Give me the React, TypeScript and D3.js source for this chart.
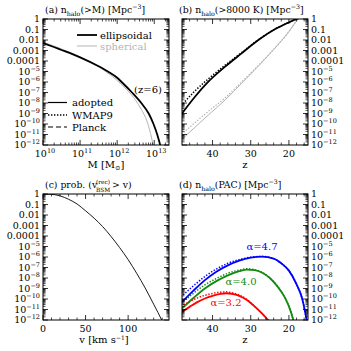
import React from "react";
import * as d3 from "d3";

const FONT = "DejaVu Serif";

// ---------- panel (a): log10 n(>M) vs log10 M at z=6
const massEll = [10.0, 10.5, 11.0, 11.5, 11.75, 12.0, 12.12, 12.4, 12.65, 12.85, 12.98, 13.08, 13.16, 13.2];
const nEll = [-2.3, -2.95, -3.65, -4.5, -5.0, -5.6, -6.0, -7.0, -8.0, -9.0, -10.0, -11.0, -12.0, -12.6];
const massSph = [10.0, 10.5, 11.0, 11.5, 11.75, 12.0, 12.25, 12.5, 12.65, 12.8, 12.9, 12.97, 13.0];
const nSph = [-2.2, -2.85, -3.6, -4.55, -5.15, -5.85, -6.7, -7.75, -8.6, -9.7, -10.9, -12.0, -12.5];

// ---------- panel (b): log10 n(>8000 K) vs z
const zB = [48.3, 44.6, 41.1, 36.7, 32.4, 28.0, 23.7, 20.5, 18.0, 17.0];
const nBEll = [-9.14, -7.4, -5.97, -4.54, -3.27, -2.0, -0.98, -0.4, 0.0, 0.15];
const nBEllW = [-8.3, -6.85, -5.7, -4.4, -3.2, -1.98, -0.98, -0.4, 0.0, 0.15];
const zBs = [48.2, 41.1, 36.7, 32.4, 28.0, 23.7, 20.2, 17.6, 16.5];
const nBSph = [-11.52, -9.14, -7.71, -6.13, -4.48, -2.79, -1.3, 0.0, 0.4];
const nBSphW = [-11.0, -8.8, -7.5, -6.0, -4.42, -2.77, -1.3, 0.0, 0.4];

// ---------- panel (c): log10 prob(v_bsm > v)
const vC = [0, 10, 20, 30, 40, 50, 60, 70, 80, 90, 100, 110, 120, 130, 140, 145];
const pC = [0, -0.03, -0.18, -0.5, -0.95, -1.6, -2.3, -3.1, -4.05, -5.1, -6.25, -7.55, -8.95, -10.5, -12.1, -13.0];

// ---------- panel (d): log10 n(PAC) vs z
const zD47 = [48.3, 45, 42, 39, 36, 33, 30, 27, 24, 22, 20, 18, 16.5, 15.3];
const nD47 = [-10.4, -9.2, -8.2, -7.4, -6.8, -6.35, -6.07, -5.97, -6.15, -6.6, -7.3, -8.6, -10.0, -12.1];
const nD47W = [-9.8, -8.75, -7.85, -7.15, -6.6, -6.25, -6.02, -5.95, -6.15, -6.6, -7.3, -8.6, -10.0, -12.1];
const zD40 = [48.3, 45, 42, 39, 36, 33, 31, 29, 27, 25, 23, 21, 19.5, 18.7];
const nD40 = [-11.0, -9.9, -9.0, -8.3, -7.75, -7.35, -7.2, -7.25, -7.5, -8.0, -8.8, -9.9, -11.2, -12.2];
const nD40W = [-10.45, -9.45, -8.65, -8.05, -7.55, -7.25, -7.12, -7.2, -7.47, -8.0, -8.8, -9.9, -11.2, -12.2];
const zD32 = [48.3, 46, 44, 42, 40, 38, 36.5, 35, 33, 31, 29, 27, 25];
const nD32 = [-11.3, -10.75, -10.3, -9.95, -9.7, -9.52, -9.45, -9.5, -9.7, -10.1, -10.7, -11.4, -12.2];
const nD32W = [-10.7, -10.25, -9.9, -9.65, -9.47, -9.35, -9.32, -9.4, -9.62, -10.05, -10.68, -11.4, -12.2];

const yTickLabels = ["1", "0.1", "0.01", "0.001", "0.0001"];

type Box = { x0: number; x1: number; y0: number; y1: number };
const BA: Box = { x0: 43, x1: 169, y0: 19, y1: 145 };
const BB: Box = { x0: 182, x1: 308, y0: 19, y1: 145 };
const BC: Box = { x0: 43, x1: 169, y0: 194, y1: 320 };
const BD: Box = { x0: 182, x1: 308, y0: 194, y1: 320 };

const TITLE = 9.3;
const LEG = 10;

function yScale(b: Box) {
  return d3.scaleLog().domain([1e-12, 1]).range([b.y1, b.y0]);
}

function YLabel({ k }: { k: number }) {
  if (k >= -4) return <>{yTickLabels[-k]}</>;
  return (
    <>
      <tspan>10</tspan>
      <tspan dy={-4} fontSize={6.5}>{"\u2212" + -k}</tspan>
    </>
  );
}

function YAxis({ b, side }: { b: Box; side: "left" | "right" }) {
  const y = yScale(b);
  const majors = d3.range(-12, 1);
  const minors: number[] = [];
  for (let k = -12; k < 0; k++) for (let m = 2; m < 10; m++) minors.push(m * Math.pow(10, k));
  return (
    <g>
      {majors.map((k) => {
        const yy = y(Math.pow(10, k));
        return (
          <g key={"M" + k}>
            <line x1={b.x0} x2={b.x0 + 5} y1={yy} y2={yy} stroke="#000" strokeWidth={0.8} />
            <line x1={b.x1} x2={b.x1 - 5} y1={yy} y2={yy} stroke="#000" strokeWidth={0.8} />
          </g>
        );
      })}
      {minors.map((v, i) => {
        const yy = y(v);
        return (
          <g key={"m" + i}>
            <line x1={b.x0} x2={b.x0 + 2.5} y1={yy} y2={yy} stroke="#000" strokeWidth={0.7} />
            <line x1={b.x1} x2={b.x1 - 2.5} y1={yy} y2={yy} stroke="#000" strokeWidth={0.7} />
          </g>
        );
      })}
      {majors.map((k) => {
        const yy = y(Math.pow(10, k));
        const left = side === "left";
        return (
          <text
            key={"t" + k}
            x={left ? b.x0 - 3 : b.x1 + 3}
            y={yy + 3.3}
            textAnchor={left ? "end" : "start"}
            fontSize={9.5}
            fontFamily={FONT}
          >
            <YLabel k={k} />
          </text>
        );
      })}
    </g>
  );
}

function XTicks({ b, scale, majors, minors }: { b: Box; scale: (v: number) => number; majors: number[]; minors: number[] }) {
  return (
    <g>
      {majors.map((v, i) => {
        const xx = scale(v);
        return (
          <g key={"M" + i}>
            <line x1={xx} x2={xx} y1={b.y1} y2={b.y1 - 5} stroke="#000" strokeWidth={0.8} />
            <line x1={xx} x2={xx} y1={b.y0} y2={b.y0 + 5} stroke="#000" strokeWidth={0.8} />
          </g>
        );
      })}
      {minors.map((v, i) => {
        const xx = scale(v);
        return (
          <g key={"m" + i}>
            <line x1={xx} x2={xx} y1={b.y1} y2={b.y1 - 2.5} stroke="#000" strokeWidth={0.7} />
            <line x1={xx} x2={xx} y1={b.y0} y2={b.y0 + 2.5} stroke="#000" strokeWidth={0.7} />
          </g>
        );
      })}
    </g>
  );
}

function Frame({ b }: { b: Box }) {
  return <rect x={b.x0} y={b.y0} width={b.x1 - b.x0} height={b.y1 - b.y0} fill="none" stroke="#000" strokeWidth={1} />;
}

function ClipDef({ id, b }: { id: string; b: Box }) {
  return (
    <clipPath id={id}>
      <rect x={b.x0} y={b.y0} width={b.x1 - b.x0} height={b.y1 - b.y0} />
    </clipPath>
  );
}

function makePath(xs: number[], ys: number[], sx: (v: number) => number, sy: (v: number) => number) {
  const pts: [number, number][] = xs.map((x, i) => [sx(x), sy(Math.pow(10, ys[i]))]);
  return d3.line().curve(d3.curveMonotoneX)(pts) || "";
}

export default function App() {
  // panel a
  const xA = d3.scaleLog().domain([1e10, 2.5e13]).range([BA.x0, BA.x1]);
  const xAm = (lm: number) => xA(Math.pow(10, lm));
  const yA = yScale(BA);
  const aMaj = [1e10, 1e11, 1e12, 1e13];
  const aMin: number[] = [];
  for (let k = 10; k <= 13; k++) for (let m = 2; m < 10; m++) if (m * Math.pow(10, k) < 2.5e13) aMin.push(m * Math.pow(10, k));

  // panel b / d
  const xB = d3.scaleLinear().domain([48, 15]).range([BB.x0, BB.x1]);
  const xD = d3.scaleLinear().domain([48, 15]).range([BD.x0, BD.x1]);
  const zMaj = [40, 30, 20];
  const zMin = d3.range(16, 48, 2).filter((v) => v % 10 !== 0);
  const yB = yScale(BB);
  const yD = yScale(BD);

  // panel c
  const xC = d3.scaleLinear().domain([0, 148]).range([BC.x0, BC.x1]);
  const yC = yScale(BC);
  const cMaj = [0, 50, 100];
  const cMin = d3.range(10, 148, 10).filter((v) => v % 50 !== 0);

  const black = "#000";
  const gray = "#b4b4b4";
  const blue = "#0000ff";
  const green = "#138a13";
  const red = "#ff0000";
  const dot = "1.4,1.6";

  return (
    <svg width={351} height={351} style={{ display: "block", position: "absolute", left: 0, top: 0 }} fontFamily={FONT}>
      <rect x={0} y={0} width={351} height={351} fill="#fff" />
      <defs>
        <ClipDef id="cA" b={BA} />
        <ClipDef id="cB" b={BB} />
        <ClipDef id="cC" b={BC} />
        <ClipDef id="cD" b={BD} />
      </defs>

      {/* ---------------- Panel (a) */}
      <text x={45} y={13} fontSize={TITLE}>
        (a) n<tspan dy={2.5} fontSize={6.3}>halo</tspan>
        <tspan dy={-2.5}>(&gt;M) [Mpc</tspan>
        <tspan dy={-4} fontSize={6.3}>{"\u22123"}</tspan>
        <tspan dy={4}>]</tspan>
      </text>
      <g clipPath="url(#cA)">
        <path d={makePath(massSph, nSph, xAm, yA)} fill="none" stroke={gray} strokeWidth={1} />
        <path d={makePath(massEll, nEll, xAm, yA)} fill="none" stroke={black} strokeWidth={1.8} />
      </g>
      <XTicks b={BA} scale={(v) => xA(v)} majors={aMaj} minors={aMin} />
      <YAxis b={BA} side="left" />
      <Frame b={BA} />
      {aMaj.map((v, i) => (
        <text key={i} x={xA(v) + 2} y={BA.y1 + 12} textAnchor="middle" fontSize={9.5}>
          10<tspan dy={-4} fontSize={6.5}>{String(10 + i)}</tspan>
        </text>
      ))}
      <text x={106} y={BA.y1 + 22.5} textAnchor="middle" fontSize={LEG}>
        M [M<tspan dy={2} fontSize={6.5}>{"\u2299"}</tspan>
        <tspan dy={-2}>]</tspan>
      </text>
      {/* legend a */}
      <line x1={77} x2={97} y1={35} y2={35} stroke={black} strokeWidth={1.8} />
      <text x={100} y={38.5} fontSize={LEG}>ellipsoidal</text>
      <line x1={77} x2={97} y1={46} y2={46} stroke={gray} strokeWidth={1} />
      <text x={100} y={49.5} fontSize={LEG} fill={gray}>spherical</text>
      <text x={148} y={93} textAnchor="middle" fontSize={LEG}>(z=6)</text>
      <line x1={48} x2={67} y1={102.5} y2={102.5} stroke={black} strokeWidth={1.2} />
      <text x={72} y={106} fontSize={LEG}>adopted</text>
      <line x1={48} x2={67} y1={115} y2={115} stroke={black} strokeWidth={1.3} strokeDasharray={dot} />
      <text x={72} y={118.5} fontSize={LEG}>WMAP9</text>
      <line x1={48} x2={67} y1={127} y2={127} stroke={black} strokeWidth={1.2} strokeDasharray="5,3" />
      <text x={72} y={130.5} fontSize={LEG}>Planck</text>

      {/* ---------------- Panel (b) */}
      <text x={179} y={13} fontSize={TITLE}>
        (b) n<tspan dy={2.5} fontSize={6.3}>halo</tspan>
        <tspan dy={-2.5}>(&gt;8000 K) [Mpc</tspan>
        <tspan dy={-4} fontSize={6.3}>{"\u22123"}</tspan>
        <tspan dy={4}>]</tspan>
      </text>
      <g clipPath="url(#cB)">
        <path d={makePath(zBs, nBSphW, xB, yB)} fill="none" stroke={gray} strokeWidth={1.2} strokeDasharray={dot} />
        <path d={makePath(zBs, nBSph, xB, yB)} fill="none" stroke={gray} strokeWidth={1} />
        <path d={makePath(zB, nBEllW, xB, yB)} fill="none" stroke={black} strokeWidth={1.5} strokeDasharray={dot} />
        <path d={makePath(zB, nBEll, xB, yB)} fill="none" stroke={black} strokeWidth={1.8} />
      </g>
      <XTicks b={BB} scale={xB} majors={zMaj} minors={zMin} />
      <YAxis b={BB} side="right" />
      <Frame b={BB} />
      {zMaj.map((v) => (
        <text key={v} x={xB(v)} y={BB.y1 + 12} textAnchor="middle" fontSize={9.5}>{v}</text>
      ))}
      <text x={245} y={BB.y1 + 22.5} textAnchor="middle" fontSize={LEG}>z</text>

      {/* ---------------- Panel (c) */}
      <text x={45} y={188} fontSize={TITLE}>(c) prob. (v</text>
      <text x={96} y={184} fontSize={5.8}>(rec)</text>
      <text x={96} y={191.5} fontSize={5.8}>BSM</text>
      <text x={112} y={188} fontSize={TITLE}>&gt; v)</text>
      <g clipPath="url(#cC)">
        <path d={makePath(vC, pC, xC, yC)} fill="none" stroke={black} strokeWidth={0.9} />
      </g>
      <XTicks b={BC} scale={xC} majors={cMaj} minors={cMin} />
      <YAxis b={BC} side="left" />
      <Frame b={BC} />
      {cMaj.map((v) => (
        <text key={v} x={xC(v)} y={BC.y1 + 12} textAnchor="middle" fontSize={9.5}>{v}</text>
      ))}
      <text x={104} y={BC.y1 + 23} textAnchor="middle" fontSize={LEG}>
        v [km s<tspan dy={-3} fontSize={6}>{"\u22121"}</tspan>
        <tspan dy={3}>]</tspan>
      </text>

      {/* ---------------- Panel (d) */}
      <text x={179} y={188} fontSize={TITLE}>
        (d) n<tspan dy={2.5} fontSize={6.3}>halo</tspan>
        <tspan dy={-2.5}>(PAC) [Mpc</tspan>
        <tspan dy={-4} fontSize={6.3}>{"\u22123"}</tspan>
        <tspan dy={4}>]</tspan>
      </text>
      <g clipPath="url(#cD)">
        <path d={makePath(zD47, nD47W, xD, yD)} fill="none" stroke={blue} strokeWidth={1.5} strokeDasharray={dot} />
        <path d={makePath(zD47, nD47, xD, yD)} fill="none" stroke={blue} strokeWidth={1.8} />
        <path d={makePath(zD40, nD40W, xD, yD)} fill="none" stroke={green} strokeWidth={1.5} strokeDasharray={dot} />
        <path d={makePath(zD40, nD40, xD, yD)} fill="none" stroke={green} strokeWidth={1.8} />
        <path d={makePath(zD32, nD32W, xD, yD)} fill="none" stroke={red} strokeWidth={1.5} strokeDasharray={dot} />
        <path d={makePath(zD32, nD32, xD, yD)} fill="none" stroke={red} strokeWidth={1.8} />
      </g>
      <XTicks b={BD} scale={xD} majors={zMaj} minors={zMin} />
      <YAxis b={BD} side="right" />
      <Frame b={BD} />
      {zMaj.map((v) => (
        <text key={v} x={xD(v)} y={BD.y1 + 12} textAnchor="middle" fontSize={9.5}>{v}</text>
      ))}
      <text x={245} y={BD.y1 + 22.5} textAnchor="middle" fontSize={LEG}>z</text>
      <text x={262} y={250} textAnchor="middle" fontSize={LEG} fill={blue}>{"\u03b1=4.7"}</text>
      <text x={241} y={285} textAnchor="middle" fontSize={LEG} fill={green}>{"\u03b1=4.0"}</text>
      <text x={226} y={306} textAnchor="middle" fontSize={LEG} fill={red}>{"\u03b1=3.2"}</text>
    </svg>
  );
}
